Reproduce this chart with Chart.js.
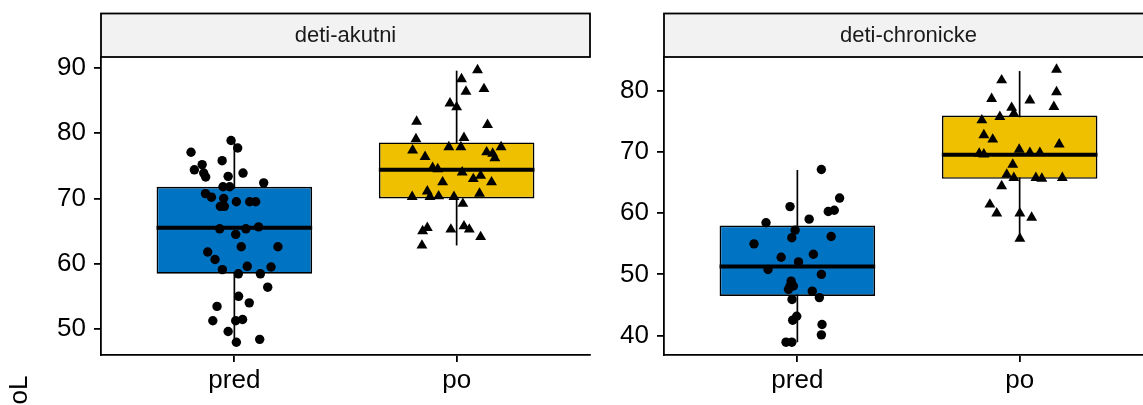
<!DOCTYPE html>
<html lang="cs">
<head>
  <meta charset="UTF-8">
  <title>deti - pred / po</title>
  <script src="https://cdn.jsdelivr.net/npm/chart.js"></script>
  <style>
    body {
      margin: 0;
      width: 1143px;
      height: 405px;
      overflow: hidden;
      position: relative;
      background: #fff;
      font-family: 'Liberation Sans', Arial, sans-serif;
    }

    .panel {
      position: absolute;
      top: 0;
      height: 405px;
    }

    #p1 { left: 0; width: 600px; }
    #p2 { left: 600px; width: 563px; }

    /* y axis title, cut off by the bottom edge like in the original */
    #ytitle {
      position: absolute;
      left: 5px;
      top: 419px;
      transform-origin: 0 0;
      transform: rotate(-90deg);
      font-size: 26px;
      line-height: 1;
      white-space: nowrap;
      color: #000;
    }
  </style>
</head>
<body>
  <div class="panel" id="p1"><canvas id="chartAkutni"></canvas></div>
  <div class="panel" id="p2"><canvas id="chartChronicke"></canvas></div>
  <div id="ytitle">poL</div>

  <script>
    const groups = ['pred', 'po'];
    const fills = ['#0073C2', '#EFC000'];

    // [dolni vous, Q1, median, Q3, horni vous]
    const akutniStats = [
      [47.95, 58.45, 65.5, 71.8, 78.9],
      [62.8, 70.0, 74.4, 78.6, 89.6]
    ];
    const chronickeStats = [
      [38.9, 46.45, 51.3, 58.0, 67.1],
      [55.85, 65.65, 69.6, 76.0, 83.3]
    ];

    // body (jitter = posun od stredu skupiny)
    const akutniPred = [78.9, 77.75, 77.1, 75.8, 75.2, 74.4, 73.9, 73.3, 73.4, 73.9, 72.4, 71.8, 71.8, 70.75, 70.2, 70.0, 68.8, 68.8, 69.5, 69.5, 69.5, 65.35, 65.35, 65.65, 64.5, 62.6, 62.6, 61.8, 60.65, 59.1, 59.6, 59.5, 58.45, 58.45, 56.4, 55.0, 54.0, 53.45, 51.25, 51.25, 51.45, 49.6, 47.95, 48.4];
    const akutniPredJit = [-0.015, 0.015, -0.195, -0.055, -0.145, -0.18, -0.138, -0.129, -0.028, 0.039, 0.132, -0.051, -0.021, -0.13, -0.103, -0.048, -0.063, -0.045, 0.009, 0.069, 0.096, -0.066, 0.052, 0.109, 0.006, 0.031, 0.196, -0.12, -0.087, -0.054, 0.058, 0.165, 0.018, 0.117, 0.15, 0.019, 0.067, -0.078, -0.097, 0.006, 0.037, -0.028, 0.009, 0.114];

    const akutniPo = [89.7, 88.3, 86.4, 86.8, 84.6, 84.0, 81.8, 81.3, 79.1, 79.3, 77.4, 77.9, 77.9, 77.9, 77.1, 76.4, 76.2, 76.9, 74.7, 74.5, 74.0, 73.5, 73.0, 72.5, 72.5, 71.1, 70.25, 70.25, 70.35, 70.25, 70.75, 69.2, 65.5, 65.0, 65.25, 65.75, 65.25, 64.1, 62.8];
    const akutniPoJit = [0.094, 0.022, 0.042, 0.123, -0.03, 0.0, -0.18, 0.139, -0.183, 0.033, -0.198, -0.035, 0.019, 0.2, 0.135, -0.142, 0.172, 0.162, -0.108, -0.085, 0.025, 0.108, 0.075, -0.063, 0.157, -0.132, -0.2, -0.12, -0.081, -0.012, 0.103, 0.028, -0.132, -0.153, -0.026, 0.033, 0.057, 0.108, -0.156];

    const chronickePred = [67.18, 62.5, 61.1, 60.3, 60.5, 59.05, 58.45, 57.25, 56.0, 56.2, 55.0, 52.8, 53.3, 52.05, 50.8, 50.0, 48.9, 48.1, 48.1, 47.55, 47.25, 45.9, 46.2, 43.15, 42.5, 41.8, 40.1, 38.9, 38.9];
    const chronickePredJit = [0.108, 0.19, -0.033, 0.139, 0.166, 0.053, -0.141, -0.01, -0.025, 0.152, -0.195, -0.073, 0.072, 0.005, -0.132, 0.108, -0.028, -0.033, -0.018, -0.04, 0.067, -0.024, 0.099, -0.003, -0.021, 0.111, 0.108, -0.051, -0.025];

    const chronickePo = [83.55, 81.8, 79.85, 78.75, 78.5, 77.45, 77.3, 76.35, 75.8, 75.25, 72.8, 72.1, 71.3, 70.45, 69.8, 69.65, 69.9, 69.9, 68.0, 66.35, 65.8, 65.8, 65.7, 65.8, 64.45, 61.45, 60.0, 60.0, 59.3, 55.85];
    const chronickePoJit = [0.166, -0.081, 0.166, -0.126, 0.046, 0.154, -0.036, -0.026, -0.089, -0.17, -0.161, -0.121, 0.178, -0.002, -0.182, -0.161, 0.046, 0.091, -0.031, -0.058, -0.026, 0.073, 0.1, 0.192, -0.081, -0.134, -0.103, 0.001, 0.054, 0.001];

    const yTicksAkutni = [50, 60, 70, 80, 90];
    const yTicksChronicke = [40, 50, 60, 70, 80];

    const family = "'Liberation Sans', Arial, sans-serif";
    const boxWidth = 0.7;

    // seda lista s nazvem panelu nad grafem
    const stripPlugin = {
      id: 'strip',
      beforeDraw(chart, args, opts) {
        const { ctx, chartArea } = chart;
        const top = 13.5;
        ctx.save();
        ctx.fillStyle = '#F2F2F2';
        ctx.fillRect(chartArea.left, top, chartArea.right - chartArea.left, chartArea.top - top);
        ctx.lineWidth = 1.8;
        ctx.strokeStyle = '#000';
        ctx.strokeRect(chartArea.left, top, chartArea.right - chartArea.left, chartArea.top - top);
        ctx.fillStyle = '#1A1A1A';
        ctx.font = '22px ' + family;
        ctx.textAlign = 'center';
        ctx.textBaseline = 'middle';
        ctx.fillText(opts.text, (chartArea.left + chartArea.right) / 2, (top + chartArea.top) / 2 + 1);
        ctx.restore();
      }
    };

    function buildDatasets(stats, pointSets) {
      const ds = [];
      // krabice
      ds.push({
        type: 'bar',
        data: stats.map((s, i) => ({ x: i, y: [s[1], s[3]] })),
        backgroundColor: fills,
        borderColor: '#000',
        borderWidth: 1.7,
        borderSkipped: false,
        barPercentage: boxWidth,
        categoryPercentage: 1,
        order: 2
      });
      stats.forEach((s, i) => {
        // vousy
        ds.push({
          type: 'line',
          data: [{ x: i, y: s[0] }, { x: i, y: s[4] }],
          borderColor: '#000',
          borderWidth: 1.7,
          pointRadius: 0,
          order: 3
        });
        // median
        ds.push({
          type: 'line',
          data: [{ x: i - boxWidth / 2, y: s[2] }, { x: i + boxWidth / 2, y: s[2] }],
          borderColor: '#000',
          borderWidth: 4,
          borderCapStyle: 'butt',
          pointRadius: 0,
          order: 1
        });
      });
      pointSets.forEach((p, i) => {
        ds.push({
          type: 'scatter',
          data: p.y.map((v, k) => ({ x: i + p.jit[k], y: v })),
          pointStyle: i === 0 ? 'circle' : 'triangle',
          pointRadius: i === 0 ? 4.7 : 6.3,
          backgroundColor: '#000',
          borderColor: '#000',
          borderWidth: 0,
          order: 0
        });
      });
      return ds;
    }

    function makeChart(id, title, stats, pointSets, yMin, yMax, yTicks, axisWidth) {
      return new Chart(document.getElementById(id), {
        type: 'scatter',
        data: { datasets: buildDatasets(stats, pointSets) },
        plugins: [stripPlugin],
        options: {
          responsive: true,
          maintainAspectRatio: false,
          animation: false,
          layout: { padding: { top: 57, right: 10, left: 0, bottom: 0 } },
          plugins: {
            legend: { display: false },
            tooltip: { enabled: false },
            strip: { text: title }
          },
          scales: {
            x: {
              type: 'linear',
              min: -0.6,
              max: 1.6,
              offset: false,
              afterBuildTicks: s => { s.ticks = groups.map((g, i) => ({ value: i })); },
              afterFit: s => { s.height = 50; },
              ticks: {
                callback: v => groups[v],
                autoSkip: false,
                maxRotation: 0,
                padding: 3,
                color: '#000',
                font: { size: 26, family: family }
              },
              grid: { drawOnChartArea: false, offset: false, tickLength: 7, color: '#000', lineWidth: 1.8 },
              border: { color: '#000', width: 1.8 }
            },
            y: {
              min: yMin,
              max: yMax,
              afterBuildTicks: s => { s.ticks = yTicks.map(v => ({ value: v })); },
              afterFit: s => { s.width = axisWidth; },
              ticks: {
                padding: 8,
                color: '#000',
                font: { size: 26, family: family }
              },
              grid: { drawOnChartArea: false, tickLength: 7, color: '#000', lineWidth: 1.8 },
              border: { color: '#000', width: 1.8 }
            }
          }
        }
      });
    }

    makeChart('chartAkutni', 'deti-akutni', akutniStats,
      [{ y: akutniPred, jit: akutniPredJit }, { y: akutniPo, jit: akutniPoJit }],
      46.0, 91.7, yTicksAkutni, 101);

    makeChart('chartChronicke', 'deti-chronicke', chronickeStats,
      [{ y: chronickePred, jit: chronickePredJit }, { y: chronickePo, jit: chronickePoJit }],
      36.8, 85.6, yTicksChronicke, 64);
  </script>
</body>
</html>
